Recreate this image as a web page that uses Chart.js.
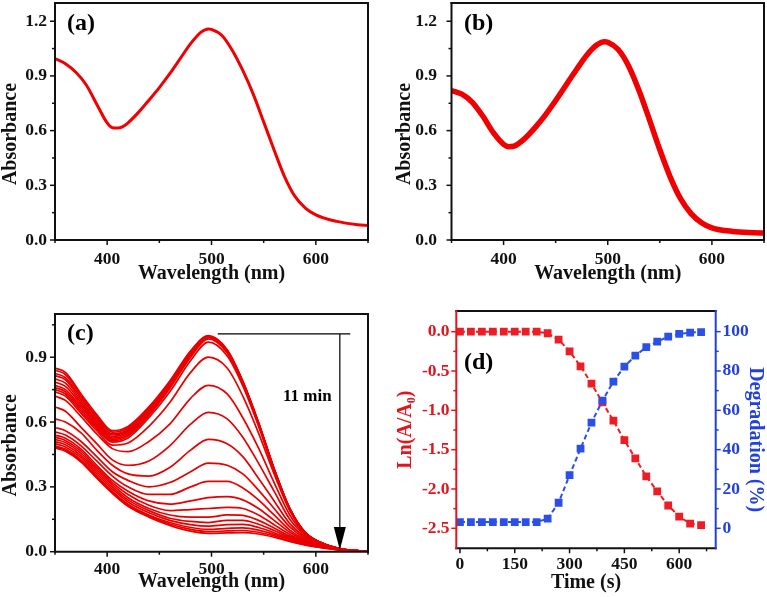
<!DOCTYPE html>
<html><head><meta charset="utf-8">
<script src="https://cdn.jsdelivr.net/npm/chart.js@4.4.1/dist/chart.umd.min.js"></script>
<style>
html,body{margin:0;padding:0;background:#fff;}
body{width:767px;height:597px;position:relative;overflow:hidden;}
canvas{position:absolute;}
</style></head><body>
<canvas id="ca" width="384" height="295" style="left:0;top:0"></canvas>
<canvas id="cb" width="383" height="295" style="left:384px;top:0"></canvas>
<canvas id="cc" width="384" height="302" style="left:0;top:295px"></canvas>
<canvas id="cd" width="383" height="302" style="left:384px;top:295px"></canvas>
<script>
// ---------- DATA ----------
// Panel (a)
const wavelengthA = [350,360,370,380,390,400,405,410,415,420,430,440,450,460,470,480,490,497,500,510,520,530,540,550,560,570,580,590,600,620,640,650];
const absorbanceA = [0.995,0.967,0.92,0.85,0.745,0.642,0.616,0.614,0.622,0.643,0.70,0.767,0.836,0.912,0.995,1.077,1.14,1.158,1.155,1.122,1.04,0.93,0.80,0.648,0.494,0.348,0.239,0.175,0.138,0.102,0.084,0.08];
// Panel (b)
const wavelengthB = [350,360,370,380,390,400,405,410,420,430,440,450,460,470,480,490,497,500,510,520,530,540,550,560,570,580,590,600,620,640,650];
const absorbanceB = [0.82,0.80,0.755,0.68,0.59,0.525,0.512,0.515,0.555,0.615,0.685,0.765,0.85,0.935,1.015,1.072,1.088,1.085,1.045,0.955,0.82,0.66,0.495,0.345,0.225,0.145,0.095,0.067,0.047,0.04,0.038];
// Panel (c): spectra recorded every 30 s (0 … 660 s)
const wavelengthC = [350,360,375,390,405,420,440,460,480,497,515,530,545,560,575,590,605,625,650];
const spec000 = [.85,.83,.73,.635,.56,.58,.67,.79,.93,1.0,.935,.79,.60,.385,.20,.088,.042,.012,.002];
const spec030 = [.84,.82,.72,.627,.553,.574,.665,.785,.925,.998,.933,.788,.598,.384,.20,.088,.042,.012,.002];
const spec060 = [.825,.805,.71,.618,.545,.567,.66,.78,.92,.996,.93,.786,.596,.383,.199,.087,.042,.012,.002];
const spec090 = [.815,.795,.70,.61,.54,.561,.655,.775,.918,.995,.929,.785,.595,.382,.199,.087,.042,.012,.002];
const spec120 = [.80,.78,.69,.602,.533,.555,.65,.77,.915,.994,.928,.784,.594,.381,.198,.087,.041,.012,.002];
const spec150 = [.785,.765,.68,.594,.526,.548,.643,.765,.91,.993,.927,.783,.593,.38,.198,.087,.041,.012,.002];
const spec180 = [.77,.75,.67,.586,.52,.541,.637,.76,.905,.99,.925,.781,.592,.379,.197,.086,.041,.012,.002];
const spec210 = [.76,.74,.66,.578,.513,.535,.63,.755,.90,.985,.92,.778,.59,.378,.196,.086,.041,.012,.002];
const spec240 = [.75,.73,.65,.57,.507,.526,.62,.74,.885,.97,.907,.767,.582,.374,.194,.085,.041,.012,.002];
const spec270 = [.74,.72,.64,.56,.493,.503,.58,.69,.83,.90,.85,.72,.55,.36,.19,.085,.04,.012,.002];
const spec300 = [.72,.70,.625,.545,.477,.463,.51,.59,.71,.77,.73,.62,.48,.32,.17,.08,.038,.011,.002];
const spec330 = [.67,.65,.575,.50,.425,.40,.42,.49,.59,.645,.615,.53,.41,.28,.15,.075,.036,.01,.002];
const spec360 = [.615,.60,.55,.47,.40,.36,.35,.39,.47,.52,.50,.44,.34,.235,.13,.068,.034,.01,.002];
const spec390 = [.575,.56,.51,.44,.37,.33,.30,.32,.37,.41,.40,.36,.285,.20,.115,.062,.032,.01,.002];
const spec420 = [.555,.54,.49,.42,.35,.30,.265,.265,.30,.325,.325,.295,.24,.17,.10,.056,.03,.01,.002];
const spec450 = [.54,.525,.475,.40,.33,.28,.235,.22,.235,.25,.255,.24,.20,.145,.09,.05,.028,.009,.002];
const spec480 = [.53,.515,.465,.39,.32,.265,.215,.19,.195,.20,.205,.20,.17,.125,.08,.046,.026,.009,.002];
const spec510 = [.52,.505,.455,.38,.31,.25,.20,.17,.16,.16,.17,.168,.145,.11,.072,.043,.024,.008,.002];
const spec540 = [.51,.495,.445,.37,.30,.24,.19,.155,.14,.135,.145,.145,.127,.098,.066,.04,.023,.008,.002];
const spec570 = [.50,.485,.435,.36,.29,.23,.18,.145,.125,.118,.125,.126,.112,.088,.06,.037,.022,.008,.002];
const spec600 = [.49,.475,.425,.35,.28,.22,.17,.135,.112,.103,.108,.11,.10,.08,.055,.034,.021,.007,.002];
const spec630 = [.485,.47,.42,.345,.275,.215,.165,.128,.103,.093,.096,.098,.09,.073,.05,.032,.02,.007,.002];
const spec660 = [.48,.465,.415,.34,.27,.21,.16,.122,.095,.085,.087,.088,.082,.067,.047,.03,.019,.007,.002];
const spectraC = [spec000,spec030,spec060,spec090,spec120,spec150,spec180,spec210,spec240,spec270,spec300,spec330,spec360,spec390,spec420,spec450,spec480,spec510,spec540,spec570,spec600,spec630,spec660];
// Panel (d)
const timeD = [0,30,60,90,120,150,180,210,240,270,300,330,360,390,420,450,480,510,540,570,600,630,660];
const lnRatioD = [0,0,0,0,0,0,0,0,-0.02,-0.1,-0.25,-0.44,-0.66,-0.9,-1.13,-1.38,-1.61,-1.84,-2.03,-2.21,-2.35,-2.44,-2.46];
const degradationD = [3.2,3.2,3.2,3.2,3.2,3.2,3.2,3.2,4.9,13,27,40.5,53.7,64.9,74.6,82.2,87.8,92.1,94.9,97.5,98.9,99.5,99.8];
// Tick values
const wlMajor = [400,500,600], wlMinor = [350,450,550,650];
const absMajorAB = [0,0.3,0.6,0.9,1.2], absMinorAB = [0.15,0.45,0.75,1.05];
const absMajorC = [0,0.3,0.6,0.9], absMinorC = [0.15,0.45,0.75,1.05];
const timeMajor = [0,150,300,450,600], timeMinor = [75,225,375,525,675];
const lnMajor = [0,-0.5,-1,-1.5,-2,-2.5], lnMinor = [-0.25,-0.75,-1.25,-1.75,-2.25];
const degMajor = [0,20,40,60,80,100], degMinor = [10,30,50,70,90];

// ---------- STYLE ----------
const FONT = '"Liberation Serif","Times New Roman",serif';
const BLK = '#111', RED = '#ee1c24', BLUE = '#2b50e8', RED_AX = '#e3141c', BLUE_AX = '#2140e0';
const TICK_SIZE = 17.5, TITLE_SIZE = 20;
Chart.defaults.font.family = FONT;

function linAxis(o) {
  const horiz = o.pos === 'bottom';
  return {
    type: 'linear', position: o.pos, min: o.min, max: o.max,
    grid: {display: false, drawTicks: false},
    border: {display: false},
    afterBuildTicks: s => { s.ticks = o.major.map(v => ({value: v})); },
    afterFit: s => {
      if (horiz) { s.height = o.size; s.paddingLeft = 0; s.paddingRight = 0; }
      else { s.width = o.size; s.paddingTop = 0; s.paddingBottom = 0; }
    },
    ticks: {autoSkip: false, maxRotation: 0, minRotation: 0, padding: o.pad, color: o.color,
      font: {family: FONT, size: TICK_SIZE, weight: 'bold'}, callback: v => o.fmt(v)},
    title: {display: true, text: o.title, color: o.color,
      padding: horiz ? {top: 0, bottom: o.titlePad} : {top: o.titlePad, bottom: 0},
      font: {family: FONT, size: TITLE_SIZE, weight: 'bold'}}
  };
}

function decor(spec) {
  return {
    id: 'decor',
    afterDatasetsDraw(chart) {
      const ctx = chart.ctx, a = chart.chartArea;
      ctx.save();
      for (const id in spec.ticks) {
        const s = chart.scales[id], t = spec.ticks[id];
        ctx.strokeStyle = t.color; ctx.lineWidth = 1.5;
        const mark = (v, len) => {
          const p = s.getPixelForValue(v);
          ctx.beginPath();
          if (s.position === 'bottom') { ctx.moveTo(p, a.bottom); ctx.lineTo(p, a.bottom + len); }
          else if (s.position === 'left') { ctx.moveTo(a.left, p); ctx.lineTo(a.left - len, p); }
          else { ctx.moveTo(a.right, p); ctx.lineTo(a.right + len, p); }
          ctx.stroke();
        };
        t.major.forEach(v => mark(v, 5));
        t.minor.forEach(v => mark(v, 3));
      }
      if (spec.extra) spec.extra(chart, ctx, a);
      const f = spec.frame;
      ctx.lineWidth = 2;
      const seg = (c, x1, y1, x2, y2) => { ctx.strokeStyle = c; ctx.beginPath(); ctx.moveTo(x1, y1); ctx.lineTo(x2, y2); ctx.stroke(); };
      seg(f.top, a.left - 1, a.top, a.right + 1, a.top);
      seg(f.bottom, a.left - 1, a.bottom, a.right + 1, a.bottom);
      seg(f.left, a.left, a.top - 1, a.left, a.bottom + 1);
      seg(f.right, a.right, a.top - 1, a.right, a.bottom + 1);
      for (const L of spec.labels) {
        ctx.fillStyle = L.color || '#000';
        ctx.font = 'bold ' + L.size + 'px ' + FONT;
        ctx.textAlign = 'left'; ctx.textBaseline = 'middle';
        ctx.fillText(L.text, L.x, L.y);
      }
      ctx.restore();
    }
  };
}

const baseOpts = (scales, pad) => ({
  responsive: false, animation: false, devicePixelRatio: 1,
  layout: {padding: pad},
  plugins: {legend: {display: false}, tooltip: {enabled: false}},
  scales
});

const frameBlack = {top: BLK, bottom: BLK, left: BLK, right: BLK};
const fmt1 = v => v.toFixed(1);
const fmtInt = v => String(v);
// trailing spaces nudge the centred vertical titles slightly down, as in the original figure
const ABS_TITLE = 'Absorbance     ';

// ---------- Panel (a) ----------
new Chart(document.getElementById('ca'), {
  type: 'line',
  data: {datasets: [{data: wavelengthA.map((w, i) => ({x: w, y: absorbanceA[i]})),
    borderColor: '#f00000', borderWidth: 3, pointRadius: 0, cubicInterpolationMode: 'monotone', fill: false}]},
  options: baseOpts({
    x: linAxis({pos: 'bottom', min: 350, max: 650, major: wlMajor, size: 55, pad: 9, color: BLK, fmt: fmtInt, title: 'Wavelength (nm)', titlePad: 9.5}),
    y: linAxis({pos: 'left', min: 0, max: 1.3, major: absMajorAB, size: 55, pad: 8, color: BLK, fmt: fmt1, title: ABS_TITLE, titlePad: -1.5})
  }, {left: 0, right: 16, top: 3, bottom: 0}),
  plugins: [decor({ticks: {x: {major: wlMajor, minor: wlMinor, color: BLK}, y: {major: absMajorAB, minor: absMinorAB, color: BLK}},
    frame: frameBlack, labels: [{text: '(a)', x: 67, y: 24, size: 24}]})]
});

// ---------- Panel (b) ----------
new Chart(document.getElementById('cb'), {
  type: 'line',
  data: {datasets: [{data: wavelengthB.map((w, i) => ({x: w, y: absorbanceB[i]})),
    borderColor: '#f00000', borderWidth: 5.5, pointRadius: 0, cubicInterpolationMode: 'monotone', fill: false}]},
  options: baseOpts({
    x: linAxis({pos: 'bottom', min: 350, max: 650, major: wlMajor, size: 55, pad: 9, color: BLK, fmt: fmtInt, title: 'Wavelength (nm)', titlePad: 9.5}),
    y: linAxis({pos: 'left', min: 0, max: 1.3, major: absMajorAB, size: 67.5, pad: 14.5, color: BLK, fmt: fmt1, title: ABS_TITLE, titlePad: 9})
  }, {left: 0, right: 3, top: 3, bottom: 0}),
  plugins: [decor({ticks: {x: {major: wlMajor, minor: wlMinor, color: BLK}, y: {major: absMajorAB, minor: absMinorAB, color: BLK}},
    frame: frameBlack, labels: [{text: '(b)', x: 80, y: 24, size: 24}]})]
});

// ---------- Panel (c) ----------
const arrowLevel = 1.008, arrowTip = 0.008, arrowLineFrom = 506, arrowLineTo = 633, arrowAt = 623;
new Chart(document.getElementById('cc'), {
  type: 'line',
  data: {datasets: spectraC.map(s => ({data: wavelengthC.map((w, i) => ({x: w, y: s[i]})),
    borderColor: '#e80000', borderWidth: 1.7, pointRadius: 0, cubicInterpolationMode: 'monotone', fill: false}))},
  options: baseOpts({
    x: linAxis({pos: 'bottom', min: 350, max: 650, major: wlMajor, size: 45.3, pad: 7, color: BLK, fmt: fmtInt, title: 'Wavelength (nm)', titlePad: 3}),
    y: linAxis({pos: 'left', min: 0, max: 1.1, major: absMajorC, size: 55, pad: 8, color: BLK, fmt: fmt1, title: ABS_TITLE, titlePad: -1.5})
  }, {left: 0, right: 16, top: 19, bottom: 0}),
  plugins: [decor({ticks: {x: {major: wlMajor, minor: wlMinor, color: BLK}, y: {major: absMajorC, minor: absMinorC, color: BLK}},
    frame: frameBlack, labels: [{text: '(c)', x: 67, y: 39, size: 24}, {text: '11 min', x: 283, y: 102, size: 17}],
    extra: (chart, ctx) => {
      const xs = chart.scales.x, ys = chart.scales.y;
      const yTop = ys.getPixelForValue(arrowLevel), yTip = ys.getPixelForValue(arrowTip), xa = xs.getPixelForValue(arrowAt);
      ctx.strokeStyle = '#000'; ctx.lineWidth = 1.2;
      ctx.beginPath(); ctx.moveTo(xs.getPixelForValue(arrowLineFrom), yTop); ctx.lineTo(xs.getPixelForValue(arrowLineTo), yTop); ctx.stroke();
      ctx.beginPath(); ctx.moveTo(xa, yTop); ctx.lineTo(xa, yTip - 20); ctx.stroke();
      ctx.fillStyle = '#000'; ctx.beginPath(); ctx.moveTo(xa - 6, yTip - 23); ctx.lineTo(xa + 6, yTip - 23); ctx.lineTo(xa, yTip); ctx.closePath(); ctx.fill();
    }})]
});

// ---------- Panel (d) ----------
new Chart(document.getElementById('cd'), {
  type: 'line',
  data: {datasets: [
    {data: timeD.map((t, i) => ({x: t, y: degradationD[i]})), yAxisID: 'y2', order: 0,
      borderColor: BLUE, backgroundColor: BLUE, borderWidth: 2, borderDash: [5, 3], pointStyle: 'rect', pointRadius: 5.5, pointBorderWidth: 0, fill: false},
    {data: timeD.map((t, i) => ({x: t, y: lnRatioD[i]})), yAxisID: 'y', order: 1,
      borderColor: RED, backgroundColor: RED, borderWidth: 2, borderDash: [5, 3], pointStyle: 'rect', pointRadius: 5.5, pointBorderWidth: 0, fill: false}
  ]},
  options: baseOpts({
    x: linAxis({pos: 'bottom', min: -10, max: 700, major: timeMajor, size: 48.7, pad: 5.6, color: BLK, fmt: fmtInt, title: 'Time (s)', titlePad: 2}),
    y: linAxis({pos: 'left', min: -2.754, max: 0.263, major: lnMajor, size: 72.3, pad: 6.7, color: RED_AX, fmt: fmt1, title: 'Ln(A/A₀)', titlePad: 9.7}),
    y2: linAxis({pos: 'right', min: -10.16, max: 110.5, major: degMajor, size: 51.3, pad: 6.7, color: BLUE_AX, fmt: fmtInt, title: '    Degradation (%)', titlePad: 0})
  }, {left: 0, right: 0, top: 16, bottom: 0}),
  plugins: [decor({ticks: {x: {major: timeMajor, minor: timeMinor, color: BLK}, y: {major: lnMajor, minor: lnMinor, color: RED_AX}, y2: {major: degMajor, minor: degMinor, color: BLUE_AX}},
    frame: {top: BLK, bottom: BLK, left: RED_AX, right: BLUE_AX}, labels: [{text: '(d)', x: 80, y: 68, size: 24}]})]
});
</script>
</body></html>
